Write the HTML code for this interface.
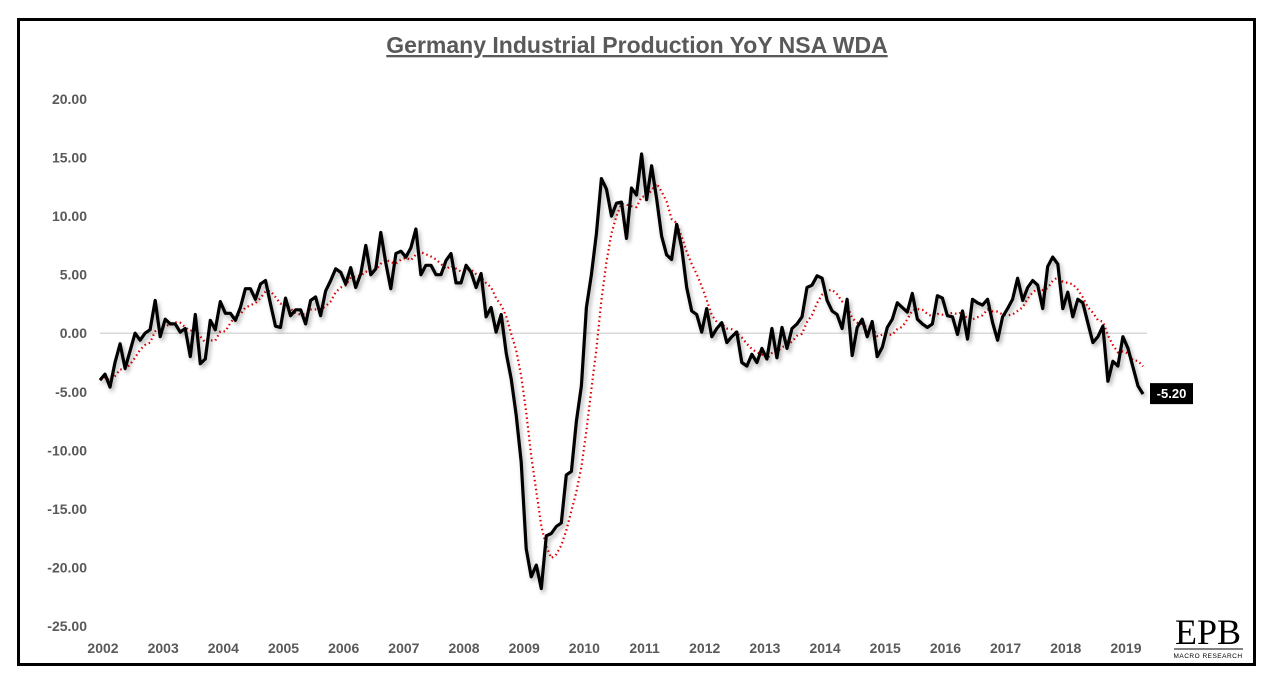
<!DOCTYPE html>
<html><head><meta charset="utf-8"><style>
body{margin:0;background:#fff;}
svg{display:block;font-family:"Liberation Sans",sans-serif;}
</style></head><body>
<svg id="chart" width="1276" height="699" viewBox="0 0 1276 699">
<defs><filter id="sh" x="-5%" y="-5%" width="110%" height="110%"><feDropShadow dx="2" dy="3" stdDeviation="2" flood-color="#000" flood-opacity="0.3"/></filter></defs>
<rect x="18.5" y="19.5" width="1236" height="645" fill="#fff" stroke="#000" stroke-width="3"/>
<text x="637" y="53" text-anchor="middle" font-size="23" font-weight="bold" fill="#595959" text-decoration="underline">Germany Industrial Production YoY NSA WDA</text>
<g id="yaxis"></g>
<g id="xaxis"></g>
<g id="plot"></g>
<g>
<text x="1208" y="644" text-anchor="middle" font-family="Liberation Serif,serif" font-size="36" fill="#000">EPB</text>
<line x1="1174" y1="649" x2="1243" y2="649" stroke="#000" stroke-width="1"/>
<text x="1208" y="658" text-anchor="middle" font-size="6.5" fill="#000" letter-spacing="0.5">MACRO RESEARCH</text>
</g>
</svg>
<script>
const yTicks=[20,15,10,5,0,-5,-10,-15,-20,-25];
const years=["2002","2003","2004","2005","2006","2007","2008","2009","2010","2011","2012","2013","2014","2015","2016","2017","2018","2019"];
const ipYoY=[
-4,-3.5,-4.6,-2.5,-0.9,-3,-1.5,0,-0.6,0,0.3,2.8,
-0.3,1.2,0.8,0.8,0.1,0.4,-2,1.6,-2.6,-2.2,1.1,0.3,
2.7,1.7,1.7,1.1,2.2,3.8,3.8,2.9,4.2,4.5,2.5,0.6,
0.5,3.0,1.5,2.0,2.0,0.8,2.8,3.1,1.5,3.6,4.5,5.5,
5.2,4.2,5.6,3.9,5.1,7.5,5.0,5.5,8.6,6.0,3.8,6.8,
7.0,6.5,7.3,8.9,5.0,5.8,5.8,5.0,5.0,6.2,6.8,4.3,
4.3,5.8,5.2,3.9,5.1,1.4,2.2,0.1,1.6,-1.7,-3.9,-7,
-11,-18.4,-20.8,-19.8,-21.8,-17.3,-17.1,-16.5,-16.2,-12.1,-11.8,-7.5,
-4.5,2.2,5.0,8.5,13.2,12.3,10.0,11.1,11.2,8.1,12.4,11.8,
15.3,11.4,14.3,11.5,8.3,6.7,6.3,9.3,7.3,
3.9,1.9,1.6,0.1,2.1,-0.3,0.4,0.9,-0.8,-0.3,0.1,-2.5,-2.8,-1.8,-2.5,-1.3,-2.2,0.4,-2.1,0.5,-1.3,0.4,0.8,1.4,3.9,4.1,4.9,4.7,2.8,1.9,1.6,0.4,2.9,-1.9,0.5,1.2,-0.3,1.0,-2.0,-1.2,0.5,1.2,2.6,2.2,1.8,3.4,1.2,0.8,0.5,0.8,3.2,3.0,1.5,1.4,-0.1,1.9,-0.5,2.9,2.6,2.4,2.9,0.9,-0.6,1.4,2.1,2.9,4.7,2.8,3.9,4.5,4.1,2.1,5.7,6.5,5.9,2.1,3.5,1.4,2.9,2.6,0.9,-0.8,-0.3,0.6,-4.1,-2.4,-2.8,-0.3,-1.3,-2.9,-4.5,-5.2];
const maWindow=6;
const NS="http://www.w3.org/2000/svg";
const x0=100,x1=1143,yTop=99,yBot=626,vMax=20,vMin=-25;
const n=ipYoY.length;
function xs(i){return x0+i*(x1-x0)/(n-1);}
function ys(v){return yTop+(vMax-v)*(yBot-yTop)/(vMax-vMin);}
function mk(tag,attrs,parent){const e=document.createElementNS(NS,tag);for(const k in attrs)e.setAttribute(k,attrs[k]);parent.appendChild(e);return e;}
const yg=document.getElementById('yaxis'),xg=document.getElementById('xaxis'),pg=document.getElementById('plot');
yTicks.forEach(v=>{const t=mk('text',{x:87,y:ys(v)+5,'text-anchor':'end','font-size':14,'font-weight':'bold',fill:'#595959'},yg);


t.textContent=v.toFixed(2);});
years.forEach((y,k)=>{const t=mk('text',{x:xs(k*12)+3,y:653,'text-anchor':'middle','font-size':14,'font-weight':'bold',fill:'#595959'},xg);


t.textContent=y;});
const zl=mk('line',{x1:x0,x2:1147,y1:ys(0),y2:ys(0),stroke:'#d9d9d9','stroke-width':1.5},pg);


const ma=ipYoY.map((v,i)=>{const s=ipYoY.slice(Math.max(0,i-maWindow+1),i+1);return s.reduce((a,b)=>a+b,0)/s.length;});
const mp=mk('path',{d:ma.map((v,i)=>(i?'L':'M')+xs(i).toFixed(1)+' '+ys(v).toFixed(1)).join(''),fill:'none',stroke:'#e00000','stroke-width':2.2,'stroke-dasharray':'1.5 3'},pg);


const lp=mk('path',{d:ipYoY.map((v,i)=>(i?'L':'M')+xs(i).toFixed(1)+' '+ys(v).toFixed(1)).join(''),fill:'none',stroke:'#000','stroke-width':3.2,'stroke-linejoin':'round',filter:'url(#sh)'},pg);


const last=ipYoY[n-1];
const hl=mk('line',{x1:593,x2:xs(n-1),y1:ys(last),y2:ys(last),stroke:'#400','stroke-width':1,filter:'url(#sh)'},pg);


const lb=mk('rect',{x:1150,y:ys(last)-11,width:43,height:21,fill:'#000'},pg);


const lt=mk('text',{x:1171.5,y:ys(last)+4,'text-anchor':'middle','font-size':13,'font-weight':'bold',fill:'#fff'},pg);


lt.textContent=last.toFixed(2);
</script>
</body></html>
